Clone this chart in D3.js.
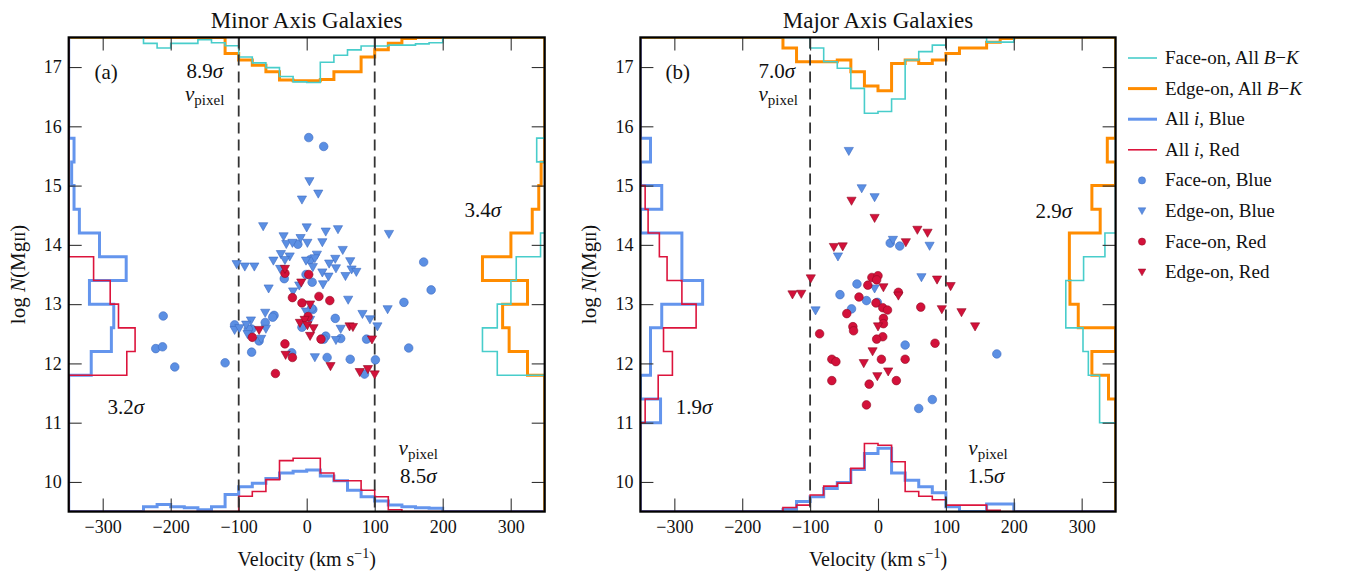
<!DOCTYPE html>
<html>
<head>
<meta charset="utf-8">
<script src="https://cdn.jsdelivr.net/npm/d3@7"></script>
<style>
body { margin: 0; background: #fff; }
svg text { font-family: "Liberation Serif", "DejaVu Serif", serif; fill: #111; }
</style>
</head>
<body>
<div id="chart"></div>
<script>
// bin edges of the histograms
const velEdges = [-240, -220, -200, -180, -160, -140, -120, -100, -80, -60, -40, -20, 0, 20, 40, 60, 80, 100, 120, 140, 160, 180, 200]
const colEdges = [11.0, 11.4, 11.8, 12.2, 12.6, 13.0, 13.4, 13.8, 14.2, 14.6, 15.0, 15.4, 15.8]
const xTicks = [-300, -200, -100, 0, 100, 200, 300]
const yTicks = [10, 11, 12, 13, 14, 15, 16, 17]

// minor axis: velocity histograms (normalised), one value per 20 km/s bin
const minorVelFace = [0.10, 0.18, 0.10, 0.10, 0.04, 0.09, 0.14, 0.33, 0.43, 0.51, 0.66, 0.75, 0.76, 0.42, 0.30, 0.21, 0.145, 0.145, 0.13, 0.13, 0.11, 0.09]
const minorVelEdge = [0, 0, 0, 0, 0, 0, 0.27, 0.38, 0.47, 0.58, 0.72, 0.73, 0.73, 0.71, 0.58, 0.58, 0.33, 0.21, 0.10, 0.02, 0, 0]
const minorVelBlue = [0.08, 0.12, 0.08, 0.066, 0.03, 0.08, 0.29, 0.42, 0.48, 0.56, 0.65, 0.68, 0.70, 0.60, 0.52, 0.36, 0.25, 0.18, 0.11, 0.08, 0.066, 0.055]
const minorVelRed = [0, 0, 0, 0, 0, 0, 0, 0.26, 0.34, 0.54, 0.86, 0.90, 0.90, 0.65, 0.52, 0.52, 0.36, 0.25, 0.03, 0, 0, 0]
// minor axis: column density histograms, one value per 0.4 dex bin (11.0 -> 15.8)
const minorColBlue = [0, 0, 0.38, 0.72, 0.76, 0.35, 0.97, 0.52, 0.18, 0.09, 0.05, 0.09]
const minorColRed = [0, 0, 0.98, 1.12, 0.84, 0.70, 0.42, 0, 0, 0, 0, 0]
const minorColFace = [0, 0, 0.80, 1.05, 0.80, 0.57, 0.48, 0.07, 0, 0, 0, 0.135]
const minorColEdge = [0, 0, 0.29, 0.60, 0.71, 0.29, 1.05, 0.57, 0.21, 0.10, 0.06, 0]

// major axis
const majorVelFace = [0, 0, 0, 0, 0, 0, 0, 0.18, 0.41, 0.52, 0.86, 1.28, 1.25, 1.04, 0.38, 0.24, 0.13, 0, 0, 0, 0.08, 0.08]
const majorVelEdge = [0, 0, 0, 0, 0, 0.18, 0.41, 0.41, 0.41, 0.38, 0.58, 0.82, 0.90, 0.44, 0.38, 0.44, 0.38, 0.27, 0.18, 0.18, 0.08, 0.02]
const majorVelBlue = [0, 0, 0, 0, 0, 0.04, 0.17, 0.25, 0.39, 0.49, 0.71, 0.98, 1.07, 0.65, 0.53, 0.42, 0.32, 0.08, 0, 0, 0.13, 0.13]
const majorVelRed = [0, 0, 0, 0, 0, 0.07, 0.11, 0.28, 0.43, 0.48, 0.73, 1.15, 1.12, 0.84, 0.34, 0.26, 0.20, 0.11, 0.11, 0.11, 0.02, 0]
const majorColBlue = [0.34, 0, 0.17, 0.17, 0.36, 1.05, 0.70, 0.70, 0, 0.36, 0, 0.17]
const majorColRed = [0.08, 0.30, 0.54, 0.39, 0.94, 0.70, 0.45, 0.32, 0.13, 0.08, 0, 0]
const majorColFace = [0.27, 0.27, 0.46, 0.55, 0.84, 0.84, 0.54, 0.18, 0, 0, 0, 0]
const majorColEdge = [0, 0.12, 0.40, 0, 0.63, 0.77, 0.78, 0.78, 0.26, 0.40, 0, 0.14]

// absorbers [velocity, log N]
const minorFaceBlue = [[3, 15.81], [25, 15.66], [-13, 14.01], [5, 13.75], [-1, 13.50], [-33, 13.43], [8, 13.37], [143, 13.03],
    [-48, 12.81], [-50, 12.78], [9, 12.91], [7, 12.93], [42, 12.76], [-61, 12.69], [-106, 12.65], [-81, 12.58], [-86, 12.58],
    [-7, 12.61], [-70, 12.38], [28, 12.46], [25, 12.41], [50, 12.42], [88, 12.41], [150, 12.26], [-81, 12.19], [-22, 12.18],
    [30, 12.10], [64, 12.07], [101, 12.06], [-120, 12.01], [85, 11.82], [-211, 12.80], [-222, 12.25], [-212, 12.28],
    [-194, 11.94], [172, 13.71], [183, 13.24]]
const minorEdgeBlue = [[4, 15.07], [17, 14.86], [-7, 14.76], [-64, 14.31], [0, 14.29], [28, 14.22], [46, 14.26], [121, 14.18],
    [-34, 14.14], [-9, 14.11], [-30, 14.01], [-21, 14.03], [1, 14.03], [23, 14.04], [53, 13.91], [-38, 13.84], [-25, 13.80],
    [-49, 13.73], [-32, 13.74], [15, 13.83], [12, 13.77], [-1, 13.73], [42, 13.76], [33, 13.68], [64, 13.72], [-103, 13.67],
    [-91, 13.63], [-77, 13.63], [9, 13.62], [43, 13.60], [66, 13.58], [73, 13.54], [-39, 13.59], [23, 13.53], [32, 13.46],
    [57, 13.47], [24, 13.33], [-11, 13.31], [-20, 13.21], [-56, 13.26], [61, 13.07], [119, 12.91], [82, 12.83], [93, 12.74],
    [104, 12.62], [-61, 12.85], [-82, 12.72], [-89, 12.65], [-106, 12.56], [-99, 12.59], [-60, 12.58], [-87, 12.49],
    [-67, 12.41], [50, 12.58], [43, 12.39], [12, 12.10], [-1, 12.87], [5, 12.73]]
const minorFaceRed = [[-32, 13.52], [3, 13.50], [-21, 13.11], [18, 13.13], [34, 13.06], [-7, 13.02], [2, 12.79], [-80, 12.44],
    [21, 12.41], [-32, 12.33], [-21, 12.10], [-46, 11.83]]
const minorEdgeRed = [[-32, 13.59], [-8, 13.36], [5, 12.99], [-10, 12.68], [-3, 12.73], [1, 12.64], [10, 12.59], [5, 12.46],
    [-70, 12.56], [63, 12.62], [68, 12.61], [96, 12.40], [-31, 12.14], [35, 11.95], [78, 11.85], [90, 11.90], [100, 11.81]]

const majorFaceBlue = [[18, 14.03], [32, 13.98], [-31, 13.34], [-56, 13.16], [-17, 13.06], [-1, 13.03], [-39, 12.92],
    [40, 12.31], [175, 12.16], [80, 11.39], [60, 11.24]]
const majorEdgeBlue = [[-43, 15.58], [-24, 14.95], [-5, 14.80], [22, 14.08], [76, 13.98], [-59, 13.80], [64, 13.45],
    [-5, 13.26], [-92, 12.89]]
const majorFaceRed = [[-9, 13.45], [0, 13.48], [-2, 13.41], [-15, 13.32], [-28, 13.12], [-3, 13.02], [30, 13.20], [7, 12.94],
    [14, 12.90], [8, 12.76], [8, 12.67], [-46, 12.84], [63, 12.95], [-86, 12.50], [-37, 12.62], [-36, 12.55], [7, 12.45],
    [-2, 12.41], [84, 12.34], [-68, 12.07], [-62, 12.03], [5, 12.07], [40, 12.07], [-68, 11.71], [-13, 11.65], [27, 11.71],
    [-17, 11.30]]
const majorEdgeRed = [[-39, 14.74], [-5, 14.45], [58, 14.25], [73, 14.20], [41, 14.04], [-65, 13.96], [-52, 13.97],
    [-99, 13.43], [-126, 13.16], [-113, 13.17], [8, 13.28], [30, 13.14], [87, 13.41], [107, 13.30], [94, 12.91],
    [123, 12.86], [143, 12.62], [0, 12.62], [-8, 12.20], [-21, 12.00], [-1, 11.78], [15, 11.86]]

// annotations [label, velocity, logN]
const minorNotes = [['(a)', -295, 16.79], ['8.9', -150, 16.82, 'sigma'], ['v', -150, 16.43, 'pix'],
    ['3.4', 259, 14.47, 'sigma'], ['3.2', -266, 11.15, 'sigma'], ['v', 164, 10.45, 'pix'], ['8.5', 164, 9.99, 'sigma']]
const majorNotes = [['(b)', -295, 16.79], ['7.0', -149, 16.82, 'sigma'], ['v', -147, 16.43, 'pix'],
    ['2.9', 259, 14.45, 'sigma'], ['1.9', -271, 11.15, 'sigma'], ['v', 162, 10.45, 'pix'], ['1.5', 159, 9.99, 'sigma']]

const colors = {
    face: '#48cdcb',
    edge: '#ff8c00',
    blue: '#6495ed',
    red: '#dc143c',
    markBlue: '#5b8fe3',
    markBlueEdge: '#3e6cc2',
    markRed: '#d3113a',
    markRedEdge: '#920a24'
}

const width = 1348
const height = 572
const plotTop = 37.4
const plotBottom = 511.6

const svg = d3.select('#chart')
    .append('svg')
    .attr('width', width)
    .attr('height', height)

const panels = [
    { id: 'a', title: 'Minor Axis Galaxies', left: 68.7, right: 544.7,
        velFace: minorVelFace, velEdge: minorVelEdge, velBlue: minorVelBlue, velRed: minorVelRed,
        colBlue: minorColBlue, colRed: minorColRed, colFace: minorColFace, colEdge: minorColEdge,
        faceBlue: minorFaceBlue, edgeBlue: minorEdgeBlue, faceRed: minorFaceRed, edgeRed: minorEdgeRed, notes: minorNotes },
    { id: 'b', title: 'Major Axis Galaxies', left: 640.4, right: 1115.6,
        velFace: majorVelFace, velEdge: majorVelEdge, velBlue: majorVelBlue, velRed: majorVelRed,
        colBlue: majorColBlue, colRed: majorColRed, colFace: majorColFace, colEdge: majorColEdge,
        faceBlue: majorFaceBlue, edgeBlue: majorEdgeBlue, faceRed: majorFaceRed, edgeRed: majorEdgeRed, notes: majorNotes }
]

const tri = 'M-4.6,-3.8L4.6,-3.8L0,4.3Z'

panels.forEach(drawPanel)
drawLegend()

// step outline of a histogram, running along the base outside the bins
function histPts(edges, vals, lo, hi) {
    const pts = [[lo, 0], [edges[0], 0]]
    vals.forEach((v, i) => {
        pts.push([edges[i], v], [edges[i + 1], v])
    })
    pts.push([edges[edges.length - 1], 0], [hi, 0])
    return pts
}

function drawPanel(p) {
    const x = d3.scaleLinear().domain([-350, 350]).range([p.left, p.right])
    const y = d3.scaleLinear().domain([9.5, 17.5]).range([plotBottom, plotTop])
    const hs = d3.scaleLinear().domain([0, 1]).range([0, y(16.5) - y(17.5)])

    const g = svg.append('g')

    svg.append('clipPath').attr('id', 'clip-' + p.id)
        .append('rect')
        .attr('x', p.left).attr('y', plotTop)
        .attr('width', p.right - p.left).attr('height', plotBottom - plotTop)

    const plot = g.append('g').attr('clip-path', `url(#clip-${p.id})`)

    const topLine = d3.line().x(d => x(d[0])).y(d => y(17.5) + hs(d[1]))
    const botLine = d3.line().x(d => x(d[0])).y(d => y(9.5) - hs(d[1]))
    const leftLine = d3.line().x(d => x(-350) + hs(d[1])).y(d => y(d[0]))
    const rightLine = d3.line().x(d => x(350) - hs(d[1])).y(d => y(d[0]))

    const hists = [
        [topLine, histPts(velEdges, p.velEdge, -360, 360), colors.edge, 3],
        [topLine, histPts(velEdges, p.velFace, -360, 360), colors.face, 1.6],
        [botLine, histPts(velEdges, p.velBlue, -360, 360), colors.blue, 3],
        [botLine, histPts(velEdges, p.velRed, -360, 360), colors.red, 1.6],
        [leftLine, histPts(colEdges, p.colBlue, 9, 18), colors.blue, 3],
        [leftLine, histPts(colEdges, p.colRed, 9, 18), colors.red, 1.6],
        [rightLine, histPts(colEdges, p.colEdge, 9, 18), colors.edge, 3],
        [rightLine, histPts(colEdges, p.colFace, 9, 18), colors.face, 1.6]
    ]
    hists.forEach(h => {
        plot.append('path')
            .attr('d', h[0](h[1]))
            .style('fill', 'none')
            .style('stroke', h[2])
            .style('stroke-width', h[3])
            .style('stroke-linejoin', 'miter')
    })

    // v_pixel limits
    plot.selectAll('.vpix')
        .data([-100, 100])
        .join('line')
        .attr('x1', d => x(d)).attr('x2', d => x(d))
        .attr('y1', plotTop).attr('y2', plotBottom)
        .style('stroke', '#333')
        .style('stroke-width', 1.8)
        .style('stroke-dasharray', '11,6')

    const markers = [
        [p.faceBlue, 'circle', colors.markBlue, colors.markBlueEdge],
        [p.edgeBlue, 'tri', colors.markBlue, colors.markBlueEdge],
        [p.faceRed, 'circle', colors.markRed, colors.markRedEdge],
        [p.edgeRed, 'tri', colors.markRed, colors.markRedEdge]
    ]
    markers.forEach(m => {
        if (m[1] == 'circle') {
            plot.append('g').selectAll('circle')
                .data(m[0])
                .join('circle')
                .attr('cx', d => x(d[0]))
                .attr('cy', d => y(d[1]))
                .attr('r', 4.3)
                .style('fill', m[2])
                .style('stroke', m[3])
                .style('stroke-width', 0.6)
        } else {
            plot.append('g').selectAll('path')
                .data(m[0])
                .join('path')
                .attr('d', tri)
                .attr('transform', d => `translate(${x(d[0])},${y(d[1])})`)
                .style('fill', m[2])
                .style('stroke', m[3])
                .style('stroke-width', 0.6)
        }
    })

    // axes, ticks pointing inwards
    const axes = [
        [d3.axisBottom(x).tickValues(xTicks).tickSizeInner(-13).tickSizeOuter(0).tickPadding(9), `translate(0,${plotBottom})`, true],
        [d3.axisTop(x).tickValues(xTicks).tickSizeInner(-13).tickSizeOuter(0), `translate(0,${plotTop})`, false],
        [d3.axisLeft(y).tickValues(yTicks).tickSizeInner(-13).tickSizeOuter(0).tickPadding(7), `translate(${p.left},0)`, true],
        [d3.axisRight(y).tickValues(yTicks).tickSizeInner(-13).tickSizeOuter(0), `translate(${p.right},0)`, false]
    ]
    axes.forEach(a => {
        const ax = g.append('g').attr('transform', a[1]).call(a[0])
        ax.attr('font-family', null)
        ax.select('.domain').remove()
        ax.selectAll('line').style('stroke', '#333').style('stroke-width', 1.1)
        ax.selectAll('text')
            .style('font-size', '18px')
            .style('fill', '#111')
        if (!a[2]) ax.selectAll('text').remove()
    })

    g.append('rect')
        .attr('x', p.left).attr('y', plotTop)
        .attr('width', p.right - p.left).attr('height', plotBottom - plotTop)
        .style('fill', 'none')
        .style('stroke', '#000')
        .style('stroke-width', 2.2)

    g.append('text')
        .attr('x', (p.left + p.right) / 2)
        .attr('y', 28)
        .attr('text-anchor', 'middle')
        .style('font-size', '23px')
        .text(p.title)

    const xl = g.append('text')
        .attr('x', (p.left + p.right) / 2)
        .attr('y', 566)
        .attr('text-anchor', 'middle')
        .style('font-size', '20px')
    xl.append('tspan').text('Velocity (km s')
    xl.append('tspan').attr('dy', -8).style('font-size', '14px').text('\u22121')
    xl.append('tspan').attr('dy', 8).text(')')

    const yl = g.append('text')
        .attr('transform', `translate(${p.left - 44},${(plotTop + plotBottom) / 2}) rotate(-90)`)
        .attr('text-anchor', 'middle')
        .style('font-size', '21px')
    yl.append('tspan').text('log ')
    yl.append('tspan').style('font-style', 'italic').text('N')
    yl.append('tspan').text('(Mg')
    yl.append('tspan').style('font-size', '15px').text('II')
    yl.append('tspan').text(')')

    p.notes.forEach(n => {
        const t = g.append('text')
            .attr('x', x(n[1]))
            .attr('y', y(n[2]))
            .attr('text-anchor', 'middle')
            .style('font-size', '21px')
        if (n[3] == 'pix') {
            t.append('tspan').style('font-style', 'italic').text('v')
            t.append('tspan').attr('dy', 4).style('font-size', '15px').text('pixel')
        } else if (n[3] == 'sigma') {
            t.append('tspan').text(n[0])
            t.append('tspan').style('font-style', 'italic').text('\u03c3')
        } else {
            t.text(n[0])
        }
    })
}

function drawLegend() {
    const items = [
        ['line', colors.face, 1.6, ['Face-on, All ', ['B', 'i'], '\u2212', ['K', 'i']]],
        ['line', colors.edge, 3, ['Edge-on, All ', ['B', 'i'], '\u2212', ['K', 'i']]],
        ['line', colors.blue, 3, ['All ', ['i', 'i'], ', Blue']],
        ['line', colors.red, 1.6, ['All ', ['i', 'i'], ', Red']],
        ['circle', colors.markBlue, colors.markBlueEdge, ['Face-on, Blue']],
        ['tri', colors.markBlue, colors.markBlueEdge, ['Edge-on, Blue']],
        ['circle', colors.markRed, colors.markRedEdge, ['Face-on, Red']],
        ['tri', colors.markRed, colors.markRedEdge, ['Edge-on, Red']]
    ]
    const lg = svg.append('g')
    items.forEach((it, i) => {
        const cy = 58 + i * 30.6
        if (it[0] == 'line') {
            lg.append('line')
                .attr('x1', 1128).attr('x2', 1157)
                .attr('y1', cy).attr('y2', cy)
                .style('stroke', it[1])
                .style('stroke-width', it[2])
        } else if (it[0] == 'circle') {
            lg.append('circle')
                .attr('cx', 1142).attr('cy', cy).attr('r', 3.6)
                .style('fill', it[1]).style('stroke', it[2]).style('stroke-width', 0.5)
        } else {
            lg.append('path')
                .attr('d', 'M-3.8,-3.2L3.8,-3.2L0,3.6Z')
                .attr('transform', `translate(1142,${cy})`)
                .style('fill', it[1]).style('stroke', it[2]).style('stroke-width', 0.5)
        }
        const t = lg.append('text')
            .attr('x', 1165)
            .attr('y', cy + 6)
            .style('font-size', '19px')
        it[3].forEach(part => {
            if (Array.isArray(part)) {
                t.append('tspan').style('font-style', 'italic').text(part[0])
            } else {
                t.append('tspan').text(part)
            }
        })
    })
}
</script>
</body>
</html>
